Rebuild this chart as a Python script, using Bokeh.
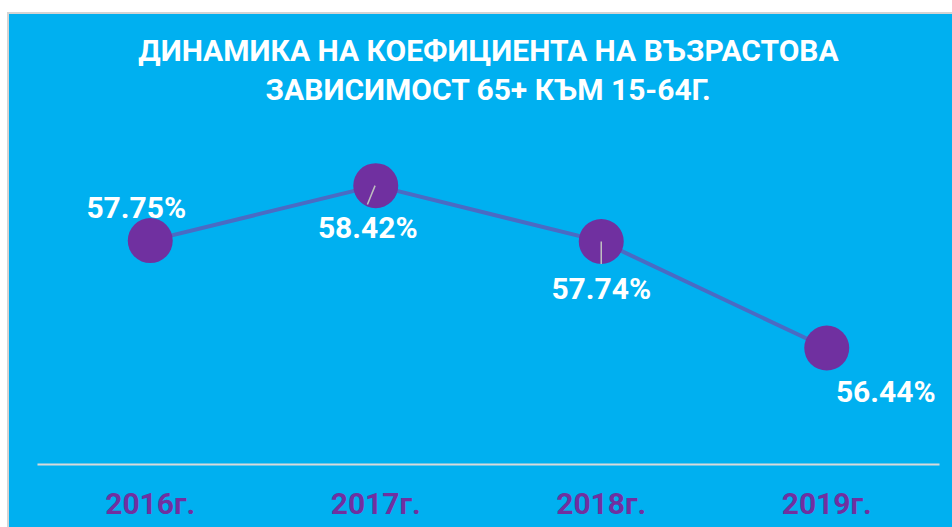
from bokeh.plotting import figure
from bokeh.models import FactorRange, Range1d, Title, ColumnDataSource, Spacer
from bokeh.layouts import column, row
from bokeh.transform import dodge
from bokeh.core.properties import value
from bokeh.embed import file_html
from bokeh.resources import INLINE

# ---- data ----
years = ["2016г.", "2017г.", "2018г.", "2019г."]
ratios = [57.75, 58.42, 57.74, 56.44]
value_labels = ["57.75%", "58.42%", "57.74%", "56.44%"]
title_lines = ["ДИНАМИКА НА КОЕФИЦИЕНТА НА ВЪЗРАСТОВА", "ЗАВИСИМОСТ 65+ КЪМ 15-64Г."]

# ---- label placement (screen px, +down) ----
label_dx = [-14, -8, 0, 59]
label_dy = [-33, 42, 47, 43]

BG = "#00b0f0"
PURPLE = "#7030a0"
GRAY = "#d4d4d4"
FONT = "Roboto"

p = figure(
    width=943, height=513,
    x_range=FactorRange(factors=years, range_padding=0),
    y_range=Range1d(55.02, 59.385),
    output_backend="svg", toolbar_location=None, title=None,
    background_fill_color=BG, border_fill_color=BG,
    min_border_left=28, min_border_right=13, min_border_top=92, min_border_bottom=63,
    outline_line_color=None, y_axis_location=None,
    styles={"background-color": BG},
)
p.grid.visible = False

t2 = Title(text=title_lines[1], align="center", text_font=FONT, text_font_size="30px",
           text_font_style="bold", text_color="white", standoff=0)
t1 = Title(text=title_lines[0], align="center", text_font=FONT, text_font_size="30px",
           text_font_style="bold", text_color="white", standoff=4)
p.add_layout(t2, "above")
p.add_layout(t1, "above")

ax = p.xaxis[0]
ax.axis_line_color = "#d9d9d9"
ax.axis_line_width = 2
ax.major_tick_line_color = None
ax.minor_tick_line_color = None
ax.major_tick_out = 0
ax.major_tick_in = 0
ax.minor_tick_out = 0
ax.major_label_text_font = FONT
ax.major_label_text_font_size = "30px"
ax.major_label_text_font_style = "bold"
ax.major_label_text_color = PURPLE
ax.major_label_standoff = 21

src = ColumnDataSource(dict(year=years, ratio=ratios, label=value_labels,
                            dx=label_dx, dy=label_dy))

p.line(x="year", y="ratio", source=src, line_color="#4a6bc4", line_width=4)
p.scatter(x="year", y="ratio", source=src, size=45, fill_color=PURPLE, line_color=None)

# leader lines for moved labels
l1 = ColumnDataSource(dict(year=[years[1]], y0=[ratios[1] - 0.229], y1=[ratios[1]]))
p.segment(x0=dodge("year", -0.037, range=p.x_range), y0="y0", x1=dodge("year", -0.003, range=p.x_range),
          y1="y1", source=l1, line_color="#bfbfbf", line_width=1.5)
l2 = ColumnDataSource(dict(year=[years[2]], y0=[ratios[2]], y1=[ratios[2] - 0.276]))
p.segment(x0="year", y0="y0", x1="year", y1="y1", source=l2, line_color="#bfbfbf", line_width=1.5)

p.text(x="year", y="ratio", text="label", x_offset="dx", y_offset="dy", source=src,
       text_font=value(FONT), text_font_size="30px", text_font_style="bold",
       text_color="white", text_align="center", text_baseline="middle")

layout = column(
    Spacer(width=952, height=12),
    row(Spacer(width=7, height=2),
        Spacer(width=945, height=2, styles={"background-color": GRAY})),
    row(Spacer(width=7, height=513),
        Spacer(width=2, height=513, styles={"background-color": GRAY}),
        p),
)

open("out.html", "w").write(file_html(layout, INLINE))
